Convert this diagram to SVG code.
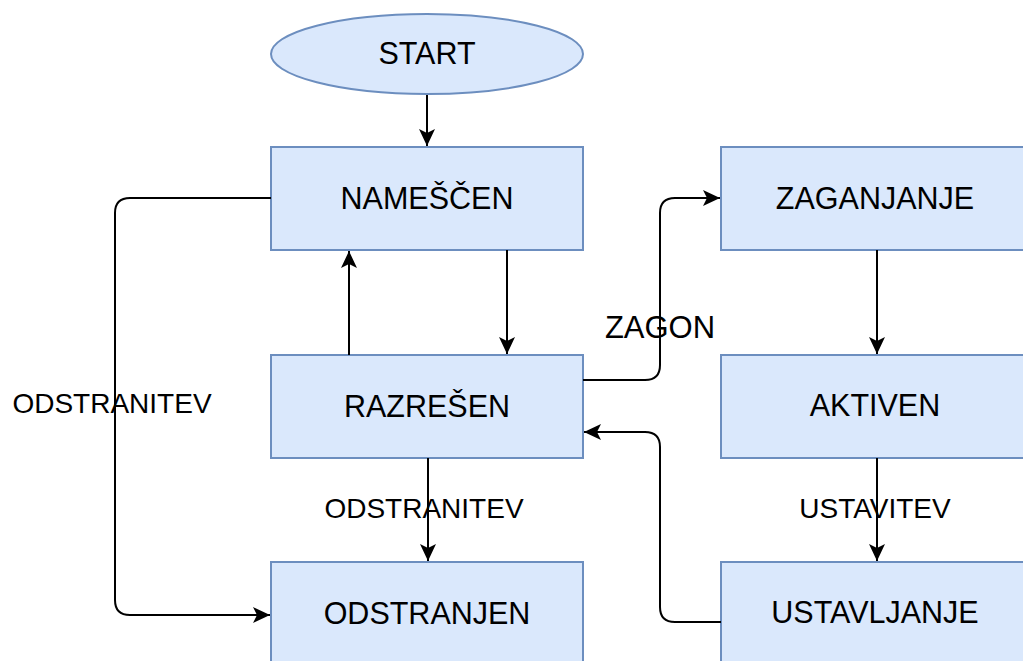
<svg xmlns="http://www.w3.org/2000/svg" width="1023" height="661" viewBox="0 0 1023 661">
<style>
.box{fill:#dae8fc;stroke:#6c8ebf;stroke-width:2}
.nt{font-family:"Liberation Sans",Arial,sans-serif;font-size:30.5px;fill:#000;text-anchor:middle}
.lt{font-family:"Liberation Sans",Arial,sans-serif;font-size:28px;fill:#000;text-anchor:middle}
.c{fill:none;stroke:#000;stroke-width:2}
</style>
<defs>
<marker id="arr" markerUnits="userSpaceOnUse" markerWidth="20" markerHeight="18" refX="17" refY="9" orient="auto">
<path d="M0,1 L17,9 L0,17 L4,9 Z" fill="#000"/>
</marker>
</defs>
<rect width="1023" height="661" fill="#fff"/>
<g id="start">
<ellipse class="box" cx="427" cy="54" rx="156" ry="40"/>
<text class="nt" x="427" y="64">START</text>
</g>
<g id="namescen">
<rect class="box" x="271" y="147" width="312" height="103"/>
<text class="nt" x="427" y="209">NAMEŠČEN</text>
</g>
<g id="razresen">
<rect class="box" x="271" y="355" width="312" height="103"/>
<text class="nt" x="427" y="417">RAZREŠEN</text>
</g>
<g id="odstranjen">
<rect class="box" x="271" y="562" width="312" height="103"/>
<text class="nt" x="427" y="624">ODSTRANJEN</text>
</g>
<g id="zaganjanje">
<rect class="box" x="721" y="147" width="312" height="103"/>
<text class="nt" x="875" y="209">ZAGANJANJE</text>
</g>
<g id="aktiven">
<rect class="box" x="721" y="355" width="312" height="103"/>
<text class="nt" x="875" y="416">AKTIVEN</text>
</g>
<g id="ustavljanje">
<rect class="box" x="721" y="562" width="312" height="103"/>
<text class="nt" x="875" y="623">USTAVLJANJE</text>
</g>
<g id="connectors">
<path class="c" d="M427,95 L427,146" marker-end="url(#arr)"/>
<path class="c" d="M507,250 L507,354" marker-end="url(#arr)"/>
<path class="c" d="M349,355 L349,251" marker-end="url(#arr)"/>
<path class="c" d="M428,458 L428,561" marker-end="url(#arr)"/>
<path class="c" d="M877,250 L877,354" marker-end="url(#arr)"/>
<path class="c" d="M877,458 L877,561" marker-end="url(#arr)"/>
<path class="c" d="M271,198 L130,198 Q115,198 115,213 L115,600 Q115,615 130,615 L270,615" marker-end="url(#arr)"/>
<path class="c" d="M583,380 L645,380 Q660,380 660,365 L660,213 Q660,198 675,198 L720,198" marker-end="url(#arr)"/>
<path class="c" d="M721,622 L675,622 Q660,622 660,607 L660,447 Q660,432 645,432 L584,432" marker-end="url(#arr)"/>
<text class="lt" x="112" y="413">ODSTRANITEV</text>
<text class="lt" x="424" y="518">ODSTRANITEV</text>
<text class="lt" x="660" y="338" style="font-size:31px">ZAGON</text>
<text class="lt" x="875" y="518">USTAVITEV</text>
</g>
</svg>
